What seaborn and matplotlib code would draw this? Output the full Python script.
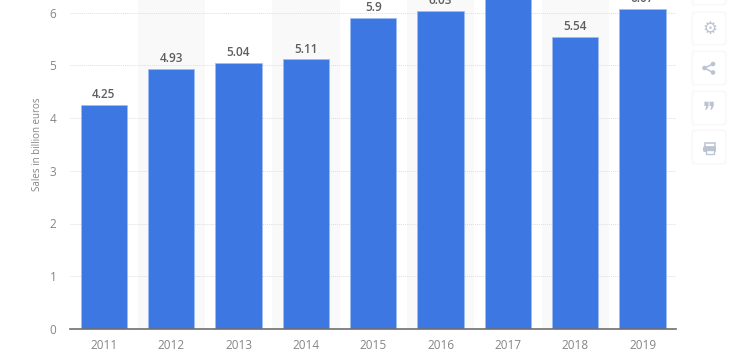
import matplotlib
matplotlib.use("Agg")
import pandas as pd
import seaborn as sns
from matplotlib import pyplot as plt
from matplotlib.patches import FancyBboxPatch, Rectangle, Circle

years = ["2011", "2012", "2013", "2014", "2015", "2016", "2017", "2018", "2019"]
sales = [4.25, 4.93, 5.04, 5.11, 5.9, 6.03, 6.45, 5.54, 6.07]
value_labels = ["4.25", "4.93", "5.04", "5.11", "5.9", "6.03", "", "5.54", "6.07"]
y_ticks = [0, 1, 2, 3, 4, 5, 6]

sns.set_theme(style="white")
plt.rcParams['font.family'] = ['Open Sans', 'DejaVu Sans']

W, H = 733, 353
fig = plt.figure(figsize=(W / 100, H / 100), dpi=100)
ax = fig.add_axes([70.2 / W, 1 - 329 / H, 606 / W, 329 / H])

df = pd.DataFrame({"year": years, "sales": sales})
sns.barplot(data=df, x="year", y="sales", color="#3c77e2", saturation=1, width=0.685,
            edgecolor="#9dbdf3", linewidth=0.5, ax=ax, zorder=3)

# alternating background bands behind the bars
for i in range(1, len(years), 2):
    ax.axvspan(i - 0.5, i + 0.5, color="#f9f9f9", lw=0, zorder=0)

ax.set_xlim(-0.5, 8.5)
ax.set_ylim(0, 329 / 52.75)
ax.set_yticks(y_ticks)
ax.yaxis.grid(True, color="#dedede", linewidth=0.7, linestyle=(0, (1, 1)), zorder=1)
ax.set_axisbelow(True)
for s in ["top", "right", "left"]:
    ax.spines[s].set_visible(False)
ax.spines["bottom"].set_color("#6f6f6f")
ax.spines["bottom"].set_linewidth(1.2)
ax.spines["bottom"].set_zorder(5)
ax.tick_params(axis="both", length=0, labelsize=8.5, labelcolor="#858585")
ax.tick_params(axis="x", pad=7)
ax.tick_params(axis="y", pad=10)
ax.set_xlabel("")
ax.set_ylabel("")
fig.text(37 / W, 1 - 144 / H, "Sales in billion euros", rotation=90, ha="center", va="center",
         fontsize=7, color="#858585")

for i, lab in enumerate(value_labels):
    ax.annotate(lab, (i, sales[i]), xytext=(0, 2.8), textcoords="offset points", ha="center", va="bottom",
                fontsize=8.5, fontweight="semibold", color="#5e5e5e", annotation_clip=False, zorder=6)

# side toolbar, drawn in pixel coordinates
tb = fig.add_axes([0, 0, 1, 1], facecolor="none")
tb.set_xlim(0, W)
tb.set_ylim(H, 0)
tb.axis("off")
icon = "#bcc4d4"
for top, bottom in [(-20, 4), (13, 44), (52, 84), (92, 124), (131, 163)]:
    for grow, col in [(2, "#fbfbfc"), (1, "#f8f8fa"), (0, "white")]:
        tb.add_patch(FancyBboxPatch((693 - grow, top - grow), 32 + 2 * grow, bottom - top + 2 * grow,
                                    boxstyle="round,pad=0,rounding_size=3", fc=col, ec="none"))

tb.text(709.5, 28.5, "\u2699", family="DejaVu Sans", fontsize=12, color=icon, ha="center", va="center")

# share icon
pts = [(704.5, 68), (713, 64), (713, 72.5)]
tb.plot([pts[1][0], pts[0][0], pts[2][0]], [pts[1][1], pts[0][1], pts[2][1]], color=icon, lw=1.1)
for p in pts:
    tb.add_patch(Circle(p, 2.3, fc=icon, ec="none"))

tb.text(709.5, 112, "\u275e", family="DejaVu Sans", fontsize=17, color=icon, ha="center", va="center")

# printer icon
tb.add_patch(Rectangle((704.5, 142.5), 10, 4, fc="none", ec=icon, lw=1.1))
tb.add_patch(FancyBboxPatch((703, 146.5), 13, 5.5, boxstyle="round,pad=0,rounding_size=1.5", fc=icon, ec="none"))
tb.add_patch(Rectangle((705.5, 149.5), 8, 4, fc="white", ec=icon, lw=1))

fig.savefig("out.png", dpi=100)
